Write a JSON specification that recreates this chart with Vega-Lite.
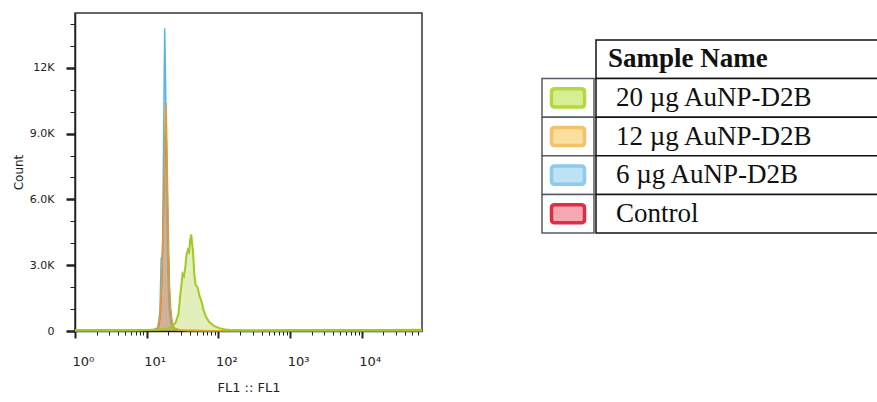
{
  "$schema": "https://vega.github.io/schema/vega-lite/v6.json",
  "padding": {"left": 11, "top": 12, "right": 0, "bottom": 0},
  "background": "white",
  "config": {"view": {"stroke": null}, "font": "DejaVu Sans"},
  "datasets": {
    "hist": [
      {"sample": "Control", "fl1": 1, "count": 15}, {"sample": "Control", "fl1": 3, "count": 15}, {"sample": "Control", "fl1": 8, "count": 20}, {"sample": "Control", "fl1": 12, "count": 40}, {"sample": "Control", "fl1": 14.5, "count": 120}, {"sample": "Control", "fl1": 15.5, "count": 700}, {"sample": "Control", "fl1": 16.4, "count": 2800}, {"sample": "Control", "fl1": 17.3, "count": 6000}, {"sample": "Control", "fl1": 18, "count": 8300}, {"sample": "Control", "fl1": 18.6, "count": 9200}, {"sample": "Control", "fl1": 19.2, "count": 7000}, {"sample": "Control", "fl1": 19.9, "count": 3800}, {"sample": "Control", "fl1": 20.8, "count": 1500}, {"sample": "Control", "fl1": 22, "count": 500}, {"sample": "Control", "fl1": 24, "count": 120}, {"sample": "Control", "fl1": 30, "count": 30}, {"sample": "Control", "fl1": 80, "count": 12}, {"sample": "Control", "fl1": 1000, "count": 8}, {"sample": "Control", "fl1": 69000, "count": 8},
      {"sample": "6 µg AuNP-D2B", "fl1": 1, "count": 15}, {"sample": "6 µg AuNP-D2B", "fl1": 3, "count": 15}, {"sample": "6 µg AuNP-D2B", "fl1": 8, "count": 20}, {"sample": "6 µg AuNP-D2B", "fl1": 12, "count": 40}, {"sample": "6 µg AuNP-D2B", "fl1": 14.3, "count": 150}, {"sample": "6 µg AuNP-D2B", "fl1": 15.3, "count": 900}, {"sample": "6 µg AuNP-D2B", "fl1": 15.9, "count": 3300}, {"sample": "6 µg AuNP-D2B", "fl1": 16.6, "count": 3500}, {"sample": "6 µg AuNP-D2B", "fl1": 17.2, "count": 8500}, {"sample": "6 µg AuNP-D2B", "fl1": 17.8, "count": 13800}, {"sample": "6 µg AuNP-D2B", "fl1": 18.3, "count": 11500}, {"sample": "6 µg AuNP-D2B", "fl1": 18.9, "count": 6500}, {"sample": "6 µg AuNP-D2B", "fl1": 19.6, "count": 3000}, {"sample": "6 µg AuNP-D2B", "fl1": 20.5, "count": 1000}, {"sample": "6 µg AuNP-D2B", "fl1": 21.8, "count": 300}, {"sample": "6 µg AuNP-D2B", "fl1": 24, "count": 80}, {"sample": "6 µg AuNP-D2B", "fl1": 30, "count": 30}, {"sample": "6 µg AuNP-D2B", "fl1": 60, "count": 15}, {"sample": "6 µg AuNP-D2B", "fl1": 200, "count": 10}, {"sample": "6 µg AuNP-D2B", "fl1": 2000, "count": 8}, {"sample": "6 µg AuNP-D2B", "fl1": 69000, "count": 8},
      {"sample": "12 µg AuNP-D2B", "fl1": 1, "count": 15}, {"sample": "12 µg AuNP-D2B", "fl1": 3, "count": 15}, {"sample": "12 µg AuNP-D2B", "fl1": 8, "count": 20}, {"sample": "12 µg AuNP-D2B", "fl1": 12, "count": 40}, {"sample": "12 µg AuNP-D2B", "fl1": 14.2, "count": 100}, {"sample": "12 µg AuNP-D2B", "fl1": 15.2, "count": 600}, {"sample": "12 µg AuNP-D2B", "fl1": 16.1, "count": 2000}, {"sample": "12 µg AuNP-D2B", "fl1": 17, "count": 5000}, {"sample": "12 µg AuNP-D2B", "fl1": 17.9, "count": 8800}, {"sample": "12 µg AuNP-D2B", "fl1": 18.6, "count": 10400}, {"sample": "12 µg AuNP-D2B", "fl1": 19.2, "count": 8200}, {"sample": "12 µg AuNP-D2B", "fl1": 19.9, "count": 4800}, {"sample": "12 µg AuNP-D2B", "fl1": 20.7, "count": 2200}, {"sample": "12 µg AuNP-D2B", "fl1": 21.6, "count": 1000}, {"sample": "12 µg AuNP-D2B", "fl1": 22.6, "count": 450}, {"sample": "12 µg AuNP-D2B", "fl1": 24, "count": 150}, {"sample": "12 µg AuNP-D2B", "fl1": 27, "count": 60}, {"sample": "12 µg AuNP-D2B", "fl1": 35, "count": 25}, {"sample": "12 µg AuNP-D2B", "fl1": 80, "count": 15}, {"sample": "12 µg AuNP-D2B", "fl1": 500, "count": 10}, {"sample": "12 µg AuNP-D2B", "fl1": 5000, "count": 8}, {"sample": "12 µg AuNP-D2B", "fl1": 69000, "count": 8},
      {"sample": "20 µg AuNP-D2B", "fl1": 1, "count": 40}, {"sample": "20 µg AuNP-D2B", "fl1": 2, "count": 40}, {"sample": "20 µg AuNP-D2B", "fl1": 5, "count": 45}, {"sample": "20 µg AuNP-D2B", "fl1": 10, "count": 50}, {"sample": "20 µg AuNP-D2B", "fl1": 15, "count": 70}, {"sample": "20 µg AuNP-D2B", "fl1": 20, "count": 110}, {"sample": "20 µg AuNP-D2B", "fl1": 22.2, "count": 200}, {"sample": "20 µg AuNP-D2B", "fl1": 25.3, "count": 380}, {"sample": "20 µg AuNP-D2B", "fl1": 27.8, "count": 800}, {"sample": "20 µg AuNP-D2B", "fl1": 29.5, "count": 1700}, {"sample": "20 µg AuNP-D2B", "fl1": 30.5, "count": 2100}, {"sample": "20 µg AuNP-D2B", "fl1": 31.6, "count": 2600}, {"sample": "20 µg AuNP-D2B", "fl1": 33, "count": 2500}, {"sample": "20 µg AuNP-D2B", "fl1": 34.5, "count": 2900}, {"sample": "20 µg AuNP-D2B", "fl1": 36, "count": 3500}, {"sample": "20 µg AuNP-D2B", "fl1": 37.5, "count": 3700}, {"sample": "20 µg AuNP-D2B", "fl1": 39, "count": 3600}, {"sample": "20 µg AuNP-D2B", "fl1": 40.5, "count": 4200}, {"sample": "20 µg AuNP-D2B", "fl1": 41.8, "count": 4400}, {"sample": "20 µg AuNP-D2B", "fl1": 43, "count": 4000}, {"sample": "20 µg AuNP-D2B", "fl1": 44.5, "count": 3500}, {"sample": "20 µg AuNP-D2B", "fl1": 46, "count": 2600}, {"sample": "20 µg AuNP-D2B", "fl1": 48, "count": 2100}, {"sample": "20 µg AuNP-D2B", "fl1": 51, "count": 2000}, {"sample": "20 µg AuNP-D2B", "fl1": 54.5, "count": 1600}, {"sample": "20 µg AuNP-D2B", "fl1": 58, "count": 1350}, {"sample": "20 µg AuNP-D2B", "fl1": 61.9, "count": 950}, {"sample": "20 µg AuNP-D2B", "fl1": 67, "count": 650}, {"sample": "20 µg AuNP-D2B", "fl1": 75, "count": 400}, {"sample": "20 µg AuNP-D2B", "fl1": 88, "count": 220}, {"sample": "20 µg AuNP-D2B", "fl1": 103, "count": 130}, {"sample": "20 µg AuNP-D2B", "fl1": 125, "count": 70}, {"sample": "20 µg AuNP-D2B", "fl1": 156, "count": 40}, {"sample": "20 µg AuNP-D2B", "fl1": 300, "count": 35}, {"sample": "20 µg AuNP-D2B", "fl1": 1000, "count": 40}, {"sample": "20 µg AuNP-D2B", "fl1": 5000, "count": 45}, {"sample": "20 µg AuNP-D2B", "fl1": 20000, "count": 50}, {"sample": "20 µg AuNP-D2B", "fl1": 69000, "count": 55}
    ],
    "legend": [
      {"name": "Sample Name", "kind": "header", "sample": ""},
      {"name": "20 µg AuNP-D2B", "kind": "row", "sample": "20 µg AuNP-D2B"},
      {"name": "12 µg AuNP-D2B", "kind": "row", "sample": "12 µg AuNP-D2B"},
      {"name": "6 µg AuNP-D2B", "kind": "row", "sample": "6 µg AuNP-D2B"},
      {"name": "Control", "kind": "row", "sample": "Control"}
    ]
  },
  "spacing": 114,
  "resolve": {"scale": {"x": "independent", "y": "independent", "color": "independent", "fill": "independent", "stroke": "independent"}},
  "hconcat": [
    {
      "width": 347,
      "height": 318,
      "view": {"stroke": "#333", "strokeWidth": 1.5},
      "data": {"name": "hist"},
      "encoding": {
        "x": {
          "field": "fl1", "type": "quantitative",
          "scale": {"type": "log", "domain": [1, 69000], "nice": false},
          "axis": {
            "title": "FL1 :: FL1",
            "titleFont": "DejaVu Sans", "titleFontSize": 13, "titleFontWeight": "normal", "titleColor": "#222", "titlePadding": 13,
            "values": [1,2,3,4,5,6,7,8,9,10,20,30,40,50,60,70,80,90,100,200,300,400,500,600,700,800,900,1000,2000,3000,4000,5000,6000,7000,8000,9000,10000,20000,30000,40000,50000,60000],
            "labelExpr": "datum.value == 1 ? '10⁰' : datum.value == 10 ? '10¹' : datum.value == 100 ? '10²' : datum.value == 1000 ? '10³' : datum.value == 10000 ? '10⁴' : ''",
            "labelOverlap": false, "labelFlush": false, "labelAlign": "left", "labelOffset": -3,
            "labelFont": "DejaVu Sans", "labelFontSize": 13, "labelColor": "#222", "labelPadding": 17,
            "tickColor": "#222", "domainColor": "#222", "domainWidth": 1.5,
            "tickSize": {"condition": {"test": "datum.value == 1 || datum.value == 10 || datum.value == 100 || datum.value == 1000 || datum.value == 10000", "value": 7}, "value": 4},
            "tickWidth": {"condition": {"test": "datum.value == 1 || datum.value == 10 || datum.value == 100 || datum.value == 1000 || datum.value == 10000", "value": 2}, "value": 1},
            "grid": false
          }
        },
        "y": {
          "field": "count", "type": "quantitative", "stack": null,
          "scale": {"domain": [0, 14500], "nice": false, "zero": true},
          "axis": {
            "title": "Count",
            "titleFont": "DejaVu Sans", "titleFontSize": 12, "titleFontWeight": "normal", "titleColor": "#222", "titlePadding": 4,
            "values": [0,1000,2000,3000,4000,5000,6000,7000,8000,9000,10000,11000,12000,13000,14000],
            "labelExpr": "datum.value == 0 ? '0' : datum.value == 3000 ? '3.0K' : datum.value == 6000 ? '6.0K' : datum.value == 9000 ? '9.0K' : datum.value == 12000 ? '12K' : ''",
            "labelOverlap": false, "labelFont": "DejaVu Sans", "labelFontSize": 11, "labelColor": "#222", "labelPadding": 12,
            "tickColor": "#222", "domainColor": "#222", "domainWidth": 1.5,
            "tickSize": {"condition": {"test": "datum.value % 3000 == 0", "value": 9}, "value": 5},
            "tickWidth": {"condition": {"test": "datum.value % 3000 == 0", "value": 2.5}, "value": 1},
            "grid": false
          }
        },
        "color": {
          "field": "sample", "type": "nominal", "legend": null,
          "scale": {"domain": ["20 µg AuNP-D2B", "12 µg AuNP-D2B", "6 µg AuNP-D2B", "Control"], "range": ["#9fcb1e", "#e89a2c", "#55b6e8", "#e0303c"]}
        }
      },
      "layer": [
        {"transform": [{"filter": "datum.sample === 'Control'"}], "mark": {"type": "area", "fillOpacity": 0.3, "line": {"strokeWidth": 1.5}}},
        {"transform": [{"filter": "datum.sample === '6 µg AuNP-D2B'"}], "mark": {"type": "area", "fillOpacity": 0.3, "line": {"strokeWidth": 1.5}}},
        {"transform": [{"filter": "datum.sample === '12 µg AuNP-D2B'"}], "mark": {"type": "area", "fillOpacity": 0.35, "line": {"strokeWidth": 1.5}}},
        {"transform": [{"filter": "datum.sample === '20 µg AuNP-D2B'"}], "mark": {"type": "area", "fillOpacity": 0.3, "line": {"strokeWidth": 2}}}
      ]
    },
    {
      "spacing": 0,
      "resolve": {"scale": {"x": "independent", "y": "independent"}},
      "hconcat": [
        {
          "width": 52,
          "height": 318,
          "data": {"name": "legend"},
          "transform": [{"filter": "datum.kind === 'row'"}],
          "encoding": {
            "y": {"field": "name", "type": "nominal", "axis": null,
              "scale": {"domain": ["Sample Name", "20 µg AuNP-D2B", "12 µg AuNP-D2B", "6 µg AuNP-D2B", "Control"], "range": [27, 220], "paddingInner": 0, "paddingOuter": 0}}
          },
          "layer": [
            {"mark": {"type": "rect", "fill": "white", "stroke": "#555a66", "strokeWidth": 1.5}},
            {"mark": {"type": "point", "filled": true, "shape": "M-0.8,-0.55 H0.8 Q1,-0.55 1,-0.35 V0.35 Q1,0.55 0.8,0.55 H-0.8 Q-1,0.55 -1,0.35 V-0.35 Q-1,-0.55 -0.8,-0.55 Z", "size": 1089, "strokeWidth": 3.5, "opacity": 1},
             "encoding": {
               "fill": {"field": "sample", "type": "nominal", "legend": null,
                 "scale": {"domain": ["20 µg AuNP-D2B", "12 µg AuNP-D2B", "6 µg AuNP-D2B", "Control"], "range": ["#d8ee94", "#fbdf9e", "#bfe3f6", "#f3a8b4"]}},
               "stroke": {"field": "sample", "type": "nominal", "legend": null,
                 "scale": {"domain": ["20 µg AuNP-D2B", "12 µg AuNP-D2B", "6 µg AuNP-D2B", "Control"], "range": ["#b2d93e", "#f3c168", "#8ccbee", "#dc2f45"]}}
             }}
          ]
        },
        {
          "width": 282,
          "height": 318,
          "data": {"name": "legend"},
          "encoding": {
            "y": {"field": "name", "type": "nominal", "axis": null,
              "scale": {"domain": ["Sample Name", "20 µg AuNP-D2B", "12 µg AuNP-D2B", "6 µg AuNP-D2B", "Control"], "range": [27, 220], "paddingInner": 0, "paddingOuter": 0}}
          },
          "layer": [
            {"mark": {"type": "rect", "fill": "white", "stroke": "#111", "strokeWidth": 1.5}},
            {"transform": [{"filter": "datum.kind === 'header'"}],
             "mark": {"type": "text", "align": "left", "baseline": "middle", "font": "Liberation Serif", "fontSize": 27, "fontWeight": "bold", "color": "#111", "dx": 12},
             "encoding": {"text": {"field": "name"}, "x": {"datum": 0, "type": "quantitative", "scale": {"domain": [0, 1]}, "axis": null}}},
            {"transform": [{"filter": "datum.kind === 'row'"}],
             "mark": {"type": "text", "align": "left", "baseline": "middle", "font": "Liberation Serif", "fontSize": 27, "color": "#111", "dx": 20},
             "encoding": {"text": {"field": "name"}, "x": {"datum": 0, "type": "quantitative", "scale": {"domain": [0, 1]}, "axis": null}}}
          ]
        }
      ]
    }
  ]
}
